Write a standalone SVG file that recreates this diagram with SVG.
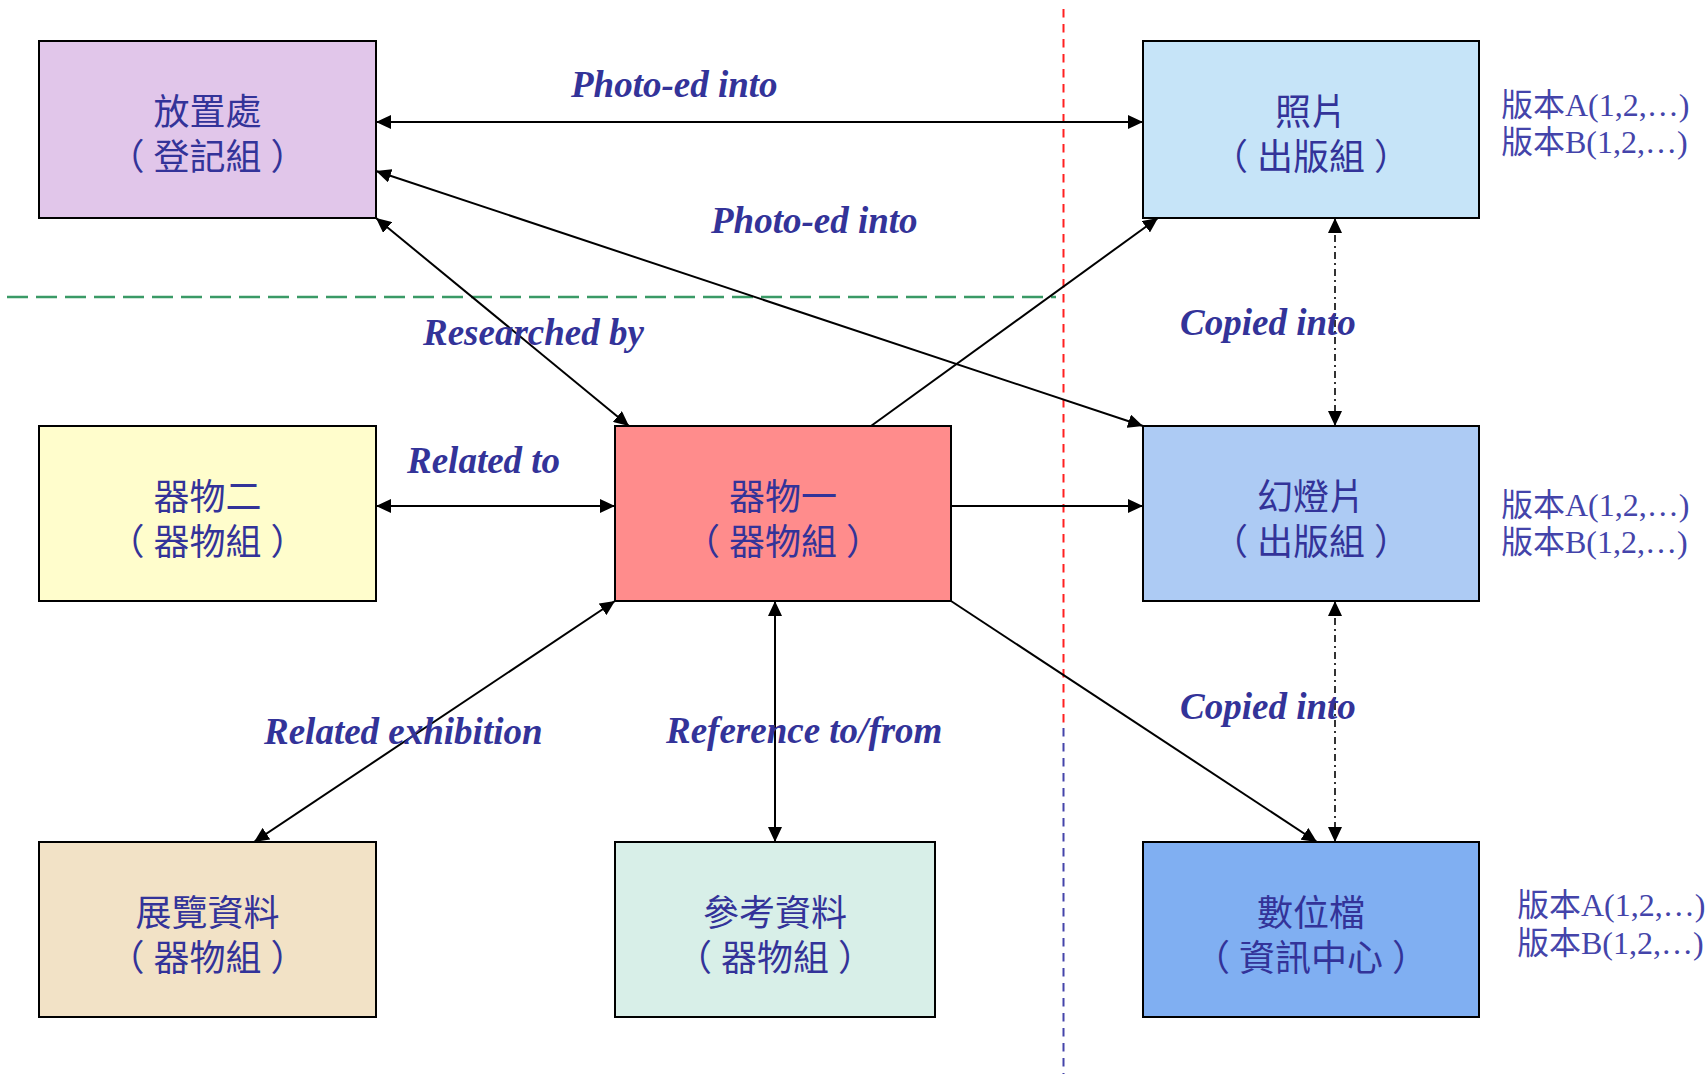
<svg xmlns="http://www.w3.org/2000/svg" width="1708" height="1074" viewBox="0 0 1708 1074">
<style>
.box{stroke:#000;stroke-width:2}
.nt{font-family:"Noto Sans CJK TC","Noto Sans CJK SC",sans-serif;font-size:36px;fill:#333399;text-anchor:middle;dominant-baseline:central}
.lb{font-family:"Liberation Serif",serif;font-size:37px;font-weight:bold;font-style:italic;fill:#333399}
.ver{font-family:"Liberation Serif","Noto Sans CJK TC",serif;font-size:32px;fill:#4444AA}
.c{stroke:#000;stroke-width:2;fill:none}
.dd{stroke:#000;stroke-width:1.6;fill:none;stroke-dasharray:7 4 2 4}
</style>
<defs>
<marker id="ah" markerUnits="userSpaceOnUse" markerWidth="16" markerHeight="14" refX="15" refY="7" orient="auto-start-reverse" viewBox="0 0 16 14">
<path d="M0,0 L15,7 L0,14 Z" fill="#000"/>
</marker>
</defs>
<rect width="1708" height="1074" fill="#fff"/>
<g id="guides">
<line x1="7" y1="297" x2="1056" y2="297" stroke="#3A9A66" stroke-width="2.6" stroke-dasharray="21 8"/>
<line x1="1063.5" y1="9" x2="1063.5" y2="728" stroke="#FF2020" stroke-width="2" stroke-dasharray="8.5 6.5"/>
<line x1="1063.5" y1="728" x2="1063.5" y2="1074" stroke="#4444AA" stroke-width="2" stroke-dasharray="8.5 6.5"/>
</g>
<g id="connectors">
<line class="c" x1="376" y1="122" x2="1143" y2="122" marker-start="url(#ah)" marker-end="url(#ah)"/>
<line class="c" x1="376" y1="171" x2="1143" y2="426" marker-start="url(#ah)" marker-end="url(#ah)"/>
<line class="c" x1="376" y1="218" x2="629" y2="426" marker-start="url(#ah)" marker-end="url(#ah)"/>
<line class="c" x1="871" y1="426" x2="1158" y2="218" marker-end="url(#ah)"/>
<line class="c" x1="376" y1="506" x2="615" y2="506" marker-start="url(#ah)" marker-end="url(#ah)"/>
<line class="c" x1="951" y1="506" x2="1143" y2="506" marker-end="url(#ah)"/>
<line class="c" x1="951" y1="601" x2="1317" y2="842" marker-end="url(#ah)"/>
<line class="c" x1="615" y1="601" x2="254" y2="842" marker-start="url(#ah)" marker-end="url(#ah)"/>
<line class="c" x1="775" y1="601" x2="775" y2="842" marker-start="url(#ah)" marker-end="url(#ah)"/>
<line class="dd" x1="1335" y1="218" x2="1335" y2="426" marker-start="url(#ah)" marker-end="url(#ah)"/>
<line class="dd" x1="1335" y1="601" x2="1335" y2="842" marker-start="url(#ah)" marker-end="url(#ah)"/>
<text class="lb" x="571" y="97">Photo-ed into</text>
<text class="lb" x="711" y="233">Photo-ed into</text>
<text class="lb" x="423" y="345">Researched by</text>
<text class="lb" x="1180" y="335">Copied into</text>
<text class="lb" x="407" y="473">Related to</text>
<text class="lb" x="264" y="744">Related exhibition</text>
<text class="lb" x="666" y="743">Reference to/from</text>
<text class="lb" x="1180" y="719">Copied into</text>
</g>
<g id="n-storage">
<rect class="box" x="39" y="41" width="337" height="177" fill="#E1C6EA"/>
<text class="nt"><tspan x="207.5" y="109">放置處</tspan><tspan x="207.5" y="154">（</tspan><tspan dx="9">登記組</tspan><tspan dx="9">）</tspan></text>
</g>
<g id="n-photo">
<rect class="box" x="1143" y="41" width="336" height="177" fill="#C6E4F8"/>
<text class="nt"><tspan x="1311" y="109">照片</tspan><tspan x="1311" y="154">（</tspan><tspan dx="9">出版組</tspan><tspan dx="9">）</tspan></text>
<text class="ver"><tspan x="1501" y="116">版本A(1,2,…)</tspan><tspan x="1501" y="153">版本B(1,2,…)</tspan></text>
</g>
<g id="n-obj2">
<rect class="box" x="39" y="426" width="337" height="175" fill="#FFFDCC"/>
<text class="nt"><tspan x="207.5" y="494">器物二</tspan><tspan x="207.5" y="539">（</tspan><tspan dx="9">器物組</tspan><tspan dx="9">）</tspan></text>
</g>
<g id="n-obj1">
<rect class="box" x="615" y="426" width="336" height="175" fill="#FF8C8C"/>
<text class="nt"><tspan x="783" y="494">器物一</tspan><tspan x="783" y="539">（</tspan><tspan dx="9">器物組</tspan><tspan dx="9">）</tspan></text>
</g>
<g id="n-slide">
<rect class="box" x="1143" y="426" width="336" height="175" fill="#ADCBF4"/>
<text class="nt"><tspan x="1311" y="494">幻燈片</tspan><tspan x="1311" y="539">（</tspan><tspan dx="9">出版組</tspan><tspan dx="9">）</tspan></text>
<text class="ver"><tspan x="1501" y="516">版本A(1,2,…)</tspan><tspan x="1501" y="553">版本B(1,2,…)</tspan></text>
</g>
<g id="n-exhibit">
<rect class="box" x="39" y="842" width="337" height="175" fill="#F2E2C6"/>
<text class="nt"><tspan x="207.5" y="910">展覽資料</tspan><tspan x="207.5" y="955">（</tspan><tspan dx="9">器物組</tspan><tspan dx="9">）</tspan></text>
</g>
<g id="n-ref">
<rect class="box" x="615" y="842" width="320" height="175" fill="#D8EFE8"/>
<text class="nt"><tspan x="775" y="910">參考資料</tspan><tspan x="775" y="955">（</tspan><tspan dx="9">器物組</tspan><tspan dx="9">）</tspan></text>
</g>
<g id="n-digital">
<rect class="box" x="1143" y="842" width="336" height="175" fill="#80AFF2"/>
<text class="nt"><tspan x="1311" y="910">數位檔</tspan><tspan x="1311" y="955">（</tspan><tspan dx="9">資訊中心</tspan><tspan dx="9">）</tspan></text>
<text class="ver"><tspan x="1517" y="916">版本A(1,2,…)</tspan><tspan x="1517" y="954">版本B(1,2,…)</tspan></text>
</g>
</svg>
